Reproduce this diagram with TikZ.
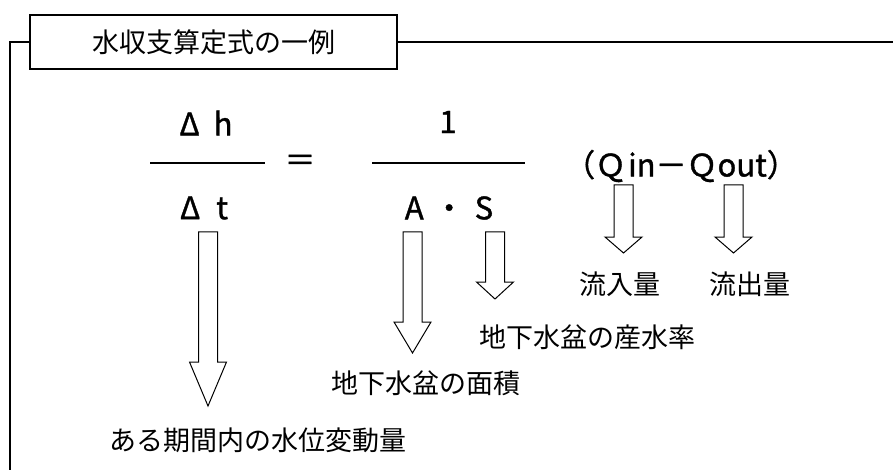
\documentclass[tikz,border=0pt]{standalone}
\usepackage{fontspec}
\setmainfont{Noto Sans CJK JP}
\newfontfamily\formulafont{Noto Sans CJK JP}[FakeBold=1.2]
\begin{document}
\begin{tikzpicture}[x=1pt,y=-1pt,every node/.style={inner sep=0pt,font=\fontsize{27}{32}\selectfont}]
	\tikzstyle{formula}=[font=\formulafont\fontsize{31}{36}\selectfont]
	\tikzstyle{blockarrow}=[draw,line width=1pt,fill=white]
	\useasboundingbox (0,0) rectangle (893,470);
	% frame and title
	\draw[line width=1.6pt] (10,480) -- (10,42) -- (30,42);
	\node[draw,line width=1.3pt,minimum width=367pt,minimum height=54pt] (title) at (213.5,42) {水収支算定式の一例};
	\draw[line width=1.6pt] (title.east) -- (893,42);
	% formula
	\node[formula] (dh) at (206,123) {Δ\hspace{14pt}h};
	\node[formula] (dt) at (204,208) {Δ\hspace{16pt}t};
	\draw[line width=1.4pt] (150,163) -- (265,163);
	\node[formula] (eq) at (300,163) {＝};
	\node[formula] (one) at (448,122) {1};
	\node[formula] (as) at (449,208) {A\hspace{10pt}・\hspace{10pt}S};
	\draw[line width=1.4pt] (372,163) -- (525,163);
	\node[formula] (q) at (681,166) {（Ｑ\hspace{2pt}in－Ｑout）};
	% arrows
	\foreach \x/\t/\b/\e in {208/232/362/406, 412.5/232/322/353, 495/232/282/299, 623.5/185/237/253, 733.5/185/237/253}
	    \draw[blockarrow] ({\x-9.5},\t) -- ({\x+9.5},\t) -- ({\x+9.5},\b) -- ({\x+18.5},\b) -- (\x,\e)
	        -- ({\x-18.5},\b) -- ({\x-9.5},\b) -- cycle;
	% labels
	\node (change) at (258,440) {ある期間内の水位変動量};
	\node (area) at (426,383) {地下水盆の面積};
	\node (yield) at (587,337) {地下水盆の産水率};
	\node (inflow) at (620,284) {流入量};
	\node (outflow) at (750,284) {流出量};
\end{tikzpicture}
\end{document}
